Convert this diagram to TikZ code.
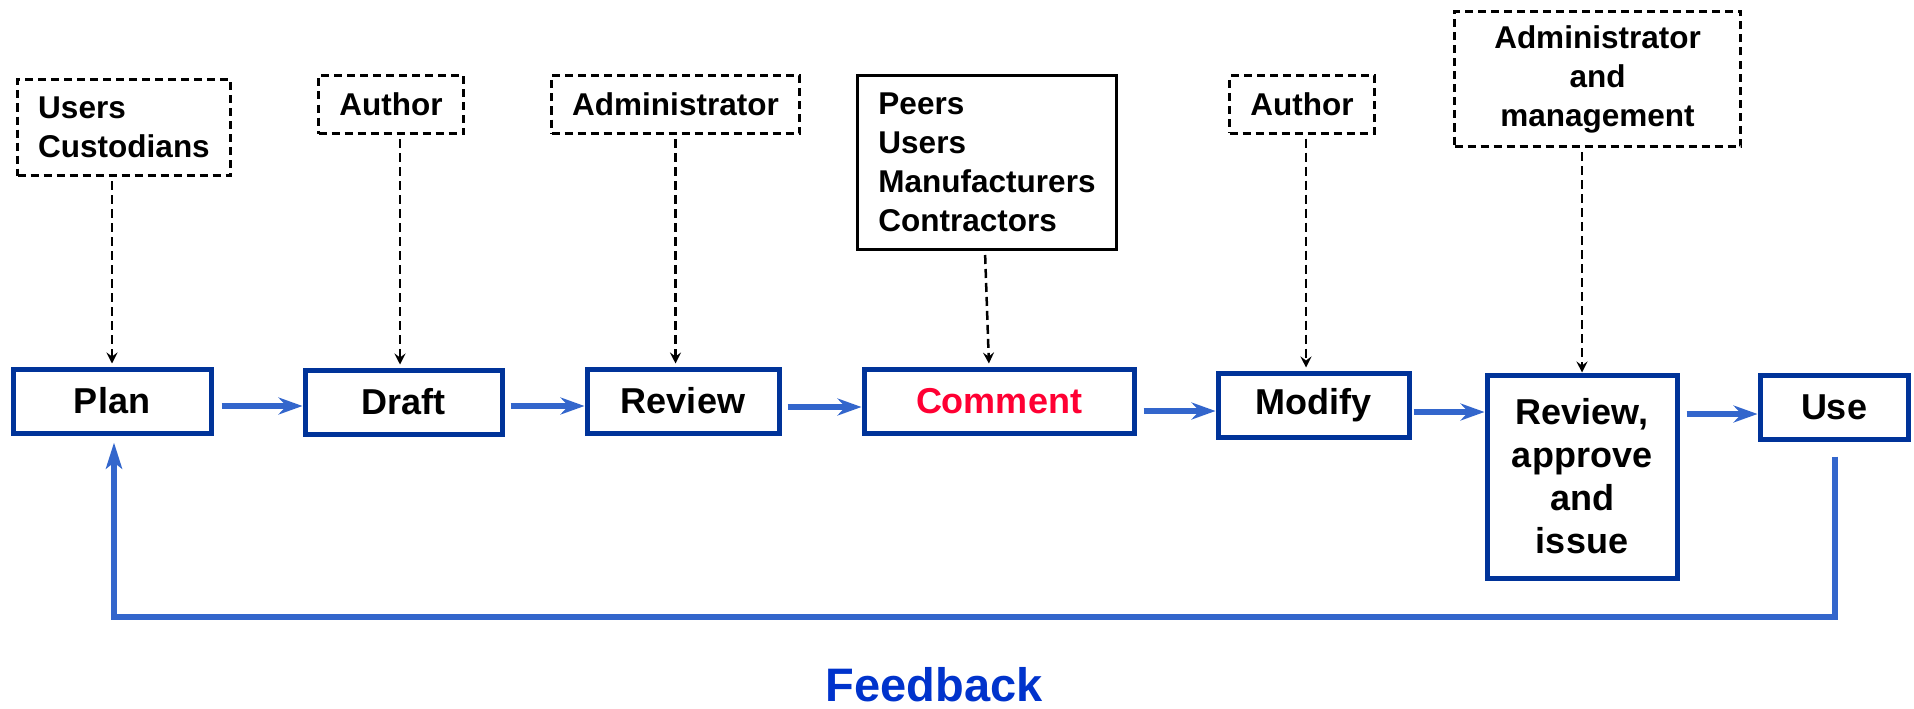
\documentclass[tikz,border=0pt]{standalone}
\usepackage{fontspec}
\setmainfont{Liberation Sans}
\usetikzlibrary{arrows.meta}
\definecolor{boxblue}{RGB}{0,51,153}
\definecolor{arrblue}{RGB}{51,102,204}
\definecolor{fbblue}{RGB}{0,51,204}
\definecolor{cred}{RGB}{255,0,51}
\begin{document}
\begin{tikzpicture}[x=1pt,y=-1pt,
  stage/.style={draw=boxblue, line width=5pt, inner sep=0pt, align=center,
    font=\fontsize{36}{43}\selectfont\bfseries},
  actor/.style={draw=black, line width=3pt, dash pattern=on 8pt off 5pt, inner sep=0pt,
    font=\fontsize{31.5}{39}\selectfont\bfseries},
  flow/.style={draw=arrblue, line width=5.5pt, -{Stealth[length=24pt,width=17pt,inset=8pt]}},
  feed/.style={draw=arrblue, line width=6pt},
  darr/.style={draw=black, line width=2.5pt, dash pattern=on 9pt off 5pt,
    -{Stealth[length=11pt,width=11pt,inset=4pt]}, shorten >=3pt, shorten <=4pt}]
\useasboundingbox (0,0) rectangle (1914,709);

% process stages
\node[stage, minimum width=198pt, minimum height=64pt] (plan)    at (112,401)    {Plan};
\node[stage, minimum width=197pt, minimum height=64pt] (draft)   at (403.5,402)  {Draft};
\node[stage, minimum width=192pt, minimum height=64pt] (review)  at (683,401)    {Review};
\node[stage, minimum width=270pt, minimum height=64pt, text=cred] (comment) at (999,401) {Comment};
\node[stage, minimum width=191pt, minimum height=64pt] (modify)  at (1313.5,405) {Modify};
\node[stage, minimum width=190pt, minimum height=203pt] (rai)    at (1582,476.5) {Review,\\approve\\and\\issue};
\node[stage, minimum width=148pt, minimum height=64pt] (use)     at (1834,407)   {Use};

% participants
\node[actor, minimum width=213pt, minimum height=96pt, align=left] (users) at (124,127.5) {Users\\Custodians};
\node[actor, minimum width=145pt, minimum height=58pt] (author1) at (391,104.5) {Author};
\node[actor, minimum width=248pt, minimum height=58pt] (admin1) at (675.5,104.5) {Administrator};
\node[actor, solid, line width=3pt, minimum width=259pt, minimum height=174pt, align=left] (peers) at (987,162.5)
  {Peers\\Users\\Manufacturers\\Contractors};
\node[actor, minimum width=145pt, minimum height=57pt] (author2) at (1302,104.5) {Author};
\node[actor, minimum width=286pt, minimum height=135pt, align=center] (admin2) at (1597.5,79)
  {Administrator\\and\\management};

% x positions of dashed connectors
\coordinate (xd) at (400,0);
\coordinate (xp1) at (985,0);
\coordinate (xp2) at (989,0);
\coordinate (xm) at (1306,0);

\draw[darr] (plan.north |- users.south) -- (plan.north);
\draw[darr] (xd |- author1.south) -- (xd |- draft.north);
\draw[darr] (admin1.south) -- (admin1.south |- review.north);
\draw[darr] (xp1 |- peers.south) -- (xp2 |- comment.north);
\draw[darr] (xm |- author2.south) -- (xm |- modify.north);
\draw[darr, shorten >=0pt] (rai.north |- admin2.south) -- (rai.north);

% flow arrows
\coordinate (y1) at (0,406);
\coordinate (y2) at (0,407);
\coordinate (y3) at (0,411);
\coordinate (y4) at (0,412);
\coordinate (y5) at (0,414);
\draw[flow, shorten <=8pt] (plan.east |- y1) -- (draft.west |- y1);
\draw[flow, shorten <=6pt] (draft.east |- y1) -- (review.west |- y1);
\draw[flow, shorten <=6pt] (review.east |- y2) -- (comment.west |- y2);
\draw[flow, shorten <=7pt] (comment.east |- y3) -- (modify.west |- y3);
\draw[flow, shorten <=2pt] (modify.east |- y4) -- (rai.west |- y4);
\draw[flow, shorten <=7pt] (rai.east |- y5) -- (use.west |- y5);

% feedback loop
\coordinate (fb) at (0,617);
\coordinate (xr) at (1835,0);
\coordinate (xl) at (114,0);
\draw[feed, -{Stealth[length=26pt,width=16pt,inset=6pt]}, shorten >=7pt]
  (xr |- use.south) ++(0,15) -- (xr |- fb) -- (xl |- fb) -- (xl |- plan.south);

\node[text=fbblue, font=\fontsize{47}{56}\selectfont\bfseries] (fbl) at (934,685) {Feedback};
\end{tikzpicture}
\end{document}
